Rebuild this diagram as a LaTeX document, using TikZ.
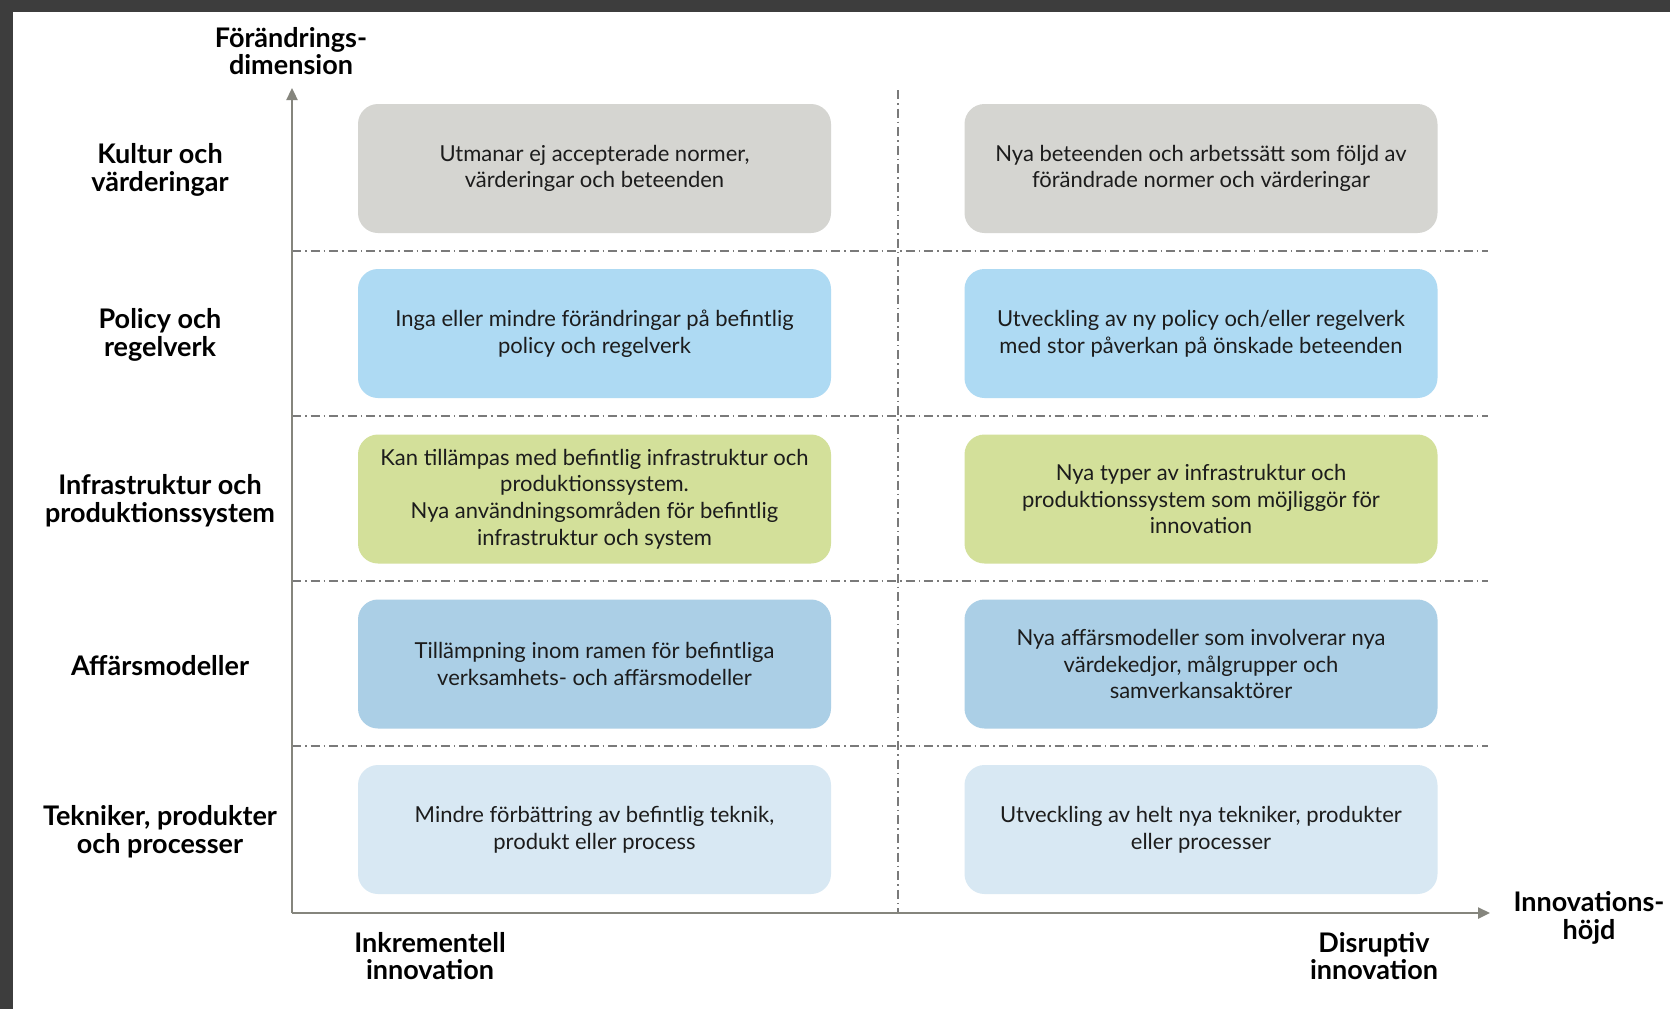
\documentclass[tikz,border=0pt]{standalone}
\usepackage{fontspec}
\setmainfont{Lato}
\usetikzlibrary{arrows.meta}

\definecolor{framegray}{HTML}{3D3D3D}
\definecolor{axisgray}{HTML}{85857D}
\definecolor{linegray}{HTML}{7A7A7A}
\definecolor{kulturfill}{HTML}{D5D5D1}
\definecolor{policyfill}{HTML}{AEDAF3}
\definecolor{infrafill}{HTML}{D3E09A}
\definecolor{affarfill}{HTML}{ABCFE6}
\definecolor{teknikfill}{HTML}{D8E8F3}
\definecolor{textdark}{HTML}{1C1C1C}

\begin{document}
\begin{tikzpicture}[x=0.5pt, y=-0.5pt,
    cell/.style={rounded corners=10pt, minimum width=236.5pt, minimum height=64.5pt,
      align=center, text=textdark, font=\fontsize{11}{13.3}\selectfont, inner sep=2pt},
    rowlabel/.style={align=center, text=black, font=\fontsize{13.5}{13.9}\selectfont\bfseries},
    gridline/.style={linegray, line width=0.6pt, dash pattern=on 4.5pt off 2pt on 0.8pt off 2pt},
    axis/.style={axisgray, line width=1.2pt, -{Triangle[width=5.5pt, length=6pt]}}]

  % frame and page
  \fill[framegray] (0,0) rectangle (1670,1009);
  \fill[white] (13,12) rectangle (1670,1009);
  \useasboundingbox (0,0) rectangle (1670,1009);

  % dash-dot grid
  \foreach \y in {251,416,581,746}
    \draw[gridline] (292,\y) -- (1488,\y);
  \draw[gridline] (898,90) -- (898,913);

  % axes
  \coordinate (origin) at (292,913);
  \coordinate (ytip) at (292,88);
  \coordinate (xtip) at (1490,913);
  \draw[axis] (origin) -- (ytip);
  \draw[axis] (origin) -- (xtip);

  \node[rowlabel] (yname) at (291,51) {Förändrings-\\dimension};
  \node[rowlabel] (xname) at (1589,918) {Innovations-\\höjd};
  \node[rowlabel] (inkr) at (430,956) {Inkrementell\\innovation};
  \node[rowlabel] (disr) at (1374,956) {Disruptiv\\innovation};

  % row labels
  \node[rowlabel] (kultur) at (160,170) {Kultur och\\värderingar};
  \node[rowlabel] (policy) at (160,335) {Policy och\\regelverk};
  \node[rowlabel] (infra) at (160,501) {Infrastruktur och\\produktionssystem};
  \node[rowlabel] (affar) at (160,666) {Affärsmodeller};
  \node[rowlabel] (teknik) at (160,832) {Tekniker, produkter\\och processer};

  % cells
  \node[cell, fill=kulturfill] (kulturL) at (594.5,168.5)
    {Utmanar ej accepterade normer,\\värderingar och beteenden};
  \node[cell, fill=kulturfill] (kulturR) at (1201,168.5)
    {Nya beteenden och arbetssätt som följd av\\förändrade normer och värderingar};

  \node[cell, fill=policyfill] (policyL) at (594.5,333.5)
    {Inga eller mindre förändringar på befintlig\\policy och regelverk};
  \node[cell, fill=policyfill] (policyR) at (1201,333.5)
    {Utveckling av ny policy och/eller regelverk\\med stor påverkan på önskade beteenden};

  \node[cell, fill=infrafill] (infraL) at (594.5,499)
    {Kan tillämpas med befintlig infrastruktur och\\produktionssystem.\\Nya användningsområden för befintlig\\infrastruktur och system};
  \node[cell, fill=infrafill] (infraR) at (1201,499)
    {Nya typer av infrastruktur och\\produktionssystem som möjliggör för\\innovation};

  \node[cell, fill=affarfill] (affarL) at (594.5,664)
    {Tillämpning inom ramen för befintliga\\verksamhets- och affärsmodeller};
  \node[cell, fill=affarfill] (affarR) at (1201,664)
    {Nya affärsmodeller som involverar nya\\värdekedjor, målgrupper och\\samverkansaktörer};

  \node[cell, fill=teknikfill] (teknikL) at (594.5,829.5)
    {Mindre förbättring av befintlig teknik,\\produkt eller process};
  \node[cell, fill=teknikfill] (teknikR) at (1201,829.5)
    {Utveckling av helt nya tekniker, produkter\\eller processer};
\end{tikzpicture}
\end{document}
